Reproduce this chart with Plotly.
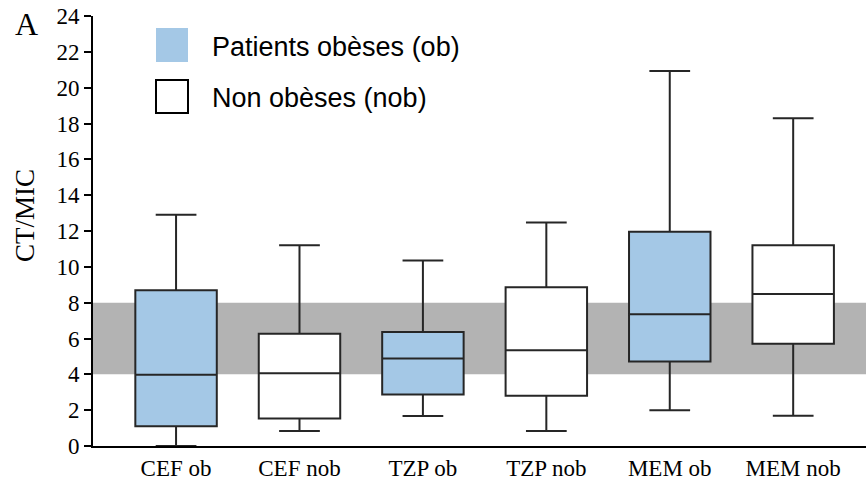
import plotly.graph_objects as go

# Box statistics (CT/MIC)
categories = ["CEF ob", "CEF nob", "TZP ob", "TZP nob", "MEM ob", "MEM nob"]

ob_labels = ["CEF ob", "TZP ob", "MEM ob"]
ob_low = [0.0, 1.67, 1.99]
ob_q1 = [1.1, 2.87, 4.71]
ob_median = [3.98, 4.88, 7.35]
ob_q3 = [8.69, 6.36, 11.96]
ob_high = [12.9, 10.35, 20.93]

nob_labels = ["CEF nob", "TZP nob", "MEM nob"]
nob_low = [0.84, 0.84, 1.69]
nob_q1 = [1.53, 2.81, 5.71]
nob_median = [4.06, 5.34, 8.48]
nob_q3 = [6.27, 8.86, 11.2]
nob_high = [11.2, 12.48, 18.29]

target_band = [4, 8]
y_ticks = list(range(0, 25, 2))

W, H = 866, 482
M_L, M_R, M_T, M_B = 93, 0, 16, 36
BLUE = "#a4c8e6"
EDGE = "#262626"
SERIF = "Liberation Serif, Times New Roman, serif"
SANS = "Liberation Sans, Arial, sans-serif"


def px(x):
    return (x - M_L) / (W - M_L - M_R)


def py(y):
    return (H - M_B - y) / (H - M_T - M_B)


def box_trace(labels, low, q1, med, q3, high, fill):
    return go.Box(
        x=labels,
        lowerfence=low,
        q1=q1,
        median=med,
        q3=q3,
        upperfence=high,
        width=0.66,
        whiskerwidth=0.5,
        fillcolor=fill,
        line=dict(color=EDGE, width=2),
        hoverinfo="skip",
        showlegend=False,
    )


fig = go.Figure()
fig.add_trace(box_trace(ob_labels, ob_low, ob_q1, ob_median, ob_q3, ob_high, BLUE))
fig.add_trace(box_trace(nob_labels, nob_low, nob_q1, nob_median, nob_q3, nob_high, "white"))

# therapeutic target band
fig.add_shape(type="rect", xref="paper", yref="y", x0=0, x1=1,
              y0=target_band[0], y1=target_band[1],
              fillcolor="#b3b3b3", line_width=0, layer="below")

# legend drawn by hand (large squares)
fig.add_shape(type="rect", xref="paper", yref="paper",
              x0=px(156), x1=px(188), y0=py(62), y1=py(28),
              fillcolor=BLUE, line_width=0)
fig.add_shape(type="rect", xref="paper", yref="paper",
              x0=px(156), x1=px(188), y0=py(113), y1=py(80),
              fillcolor="white", line=dict(color="black", width=2))
fig.add_annotation(text="Patients obèses (ob)", xref="paper", yref="paper",
                   x=px(210), y=py(47), xanchor="left", yanchor="middle",
                   showarrow=False, font=dict(family=SANS, size=27, color="black"))
fig.add_annotation(text="Non obèses (nob)", xref="paper", yref="paper",
                   x=px(210), y=py(98), xanchor="left", yanchor="middle",
                   showarrow=False, font=dict(family=SANS, size=27, color="black"))

fig.add_annotation(text="A", xref="paper", yref="paper", x=px(26), y=py(24),
                   xanchor="center", yanchor="middle", showarrow=False,
                   font=dict(family=SERIF, size=32, color="black"))
fig.add_annotation(text="CT/MIC", xref="paper", yref="paper", x=px(25), y=py(216),
                   xanchor="center", yanchor="middle", textangle=-90, showarrow=False,
                   font=dict(family=SERIF, size=27, color="black"))

fig.update_layout(
    width=W,
    height=H,
    margin=dict(l=M_L, r=M_R, t=M_T, b=M_B, pad=0, autoexpand=False),
    boxmode="overlay",
    plot_bgcolor="white",
    paper_bgcolor="white",
    showlegend=False,
    font=dict(family=SERIF, color="black"),
)
fig.update_xaxes(
    type="category",
    categoryorder="array",
    categoryarray=categories,
    range=[-0.673, 5.59],
    automargin=False,
    showline=True, linecolor="black", linewidth=2,
    showgrid=False, zeroline=False, ticks="",
    tickfont=dict(family=SERIF, size=23, color="black"),
    ticklabelstandoff=0,
)
fig.update_yaxes(
    range=[0, 24],
    tickvals=y_ticks,
    automargin=False,
    showline=True, linecolor="black", linewidth=2,
    showgrid=False, zeroline=False,
    ticks="outside", ticklen=7, tickwidth=2, tickcolor="black",
    tickfont=dict(family=SERIF, size=23, color="black"),
)

# drop the page's default body margin so the figure sits at the window origin
fig.write_html("out.html", config={"displayModeBar": False},
               post_script="document.body.style.margin='0';")
